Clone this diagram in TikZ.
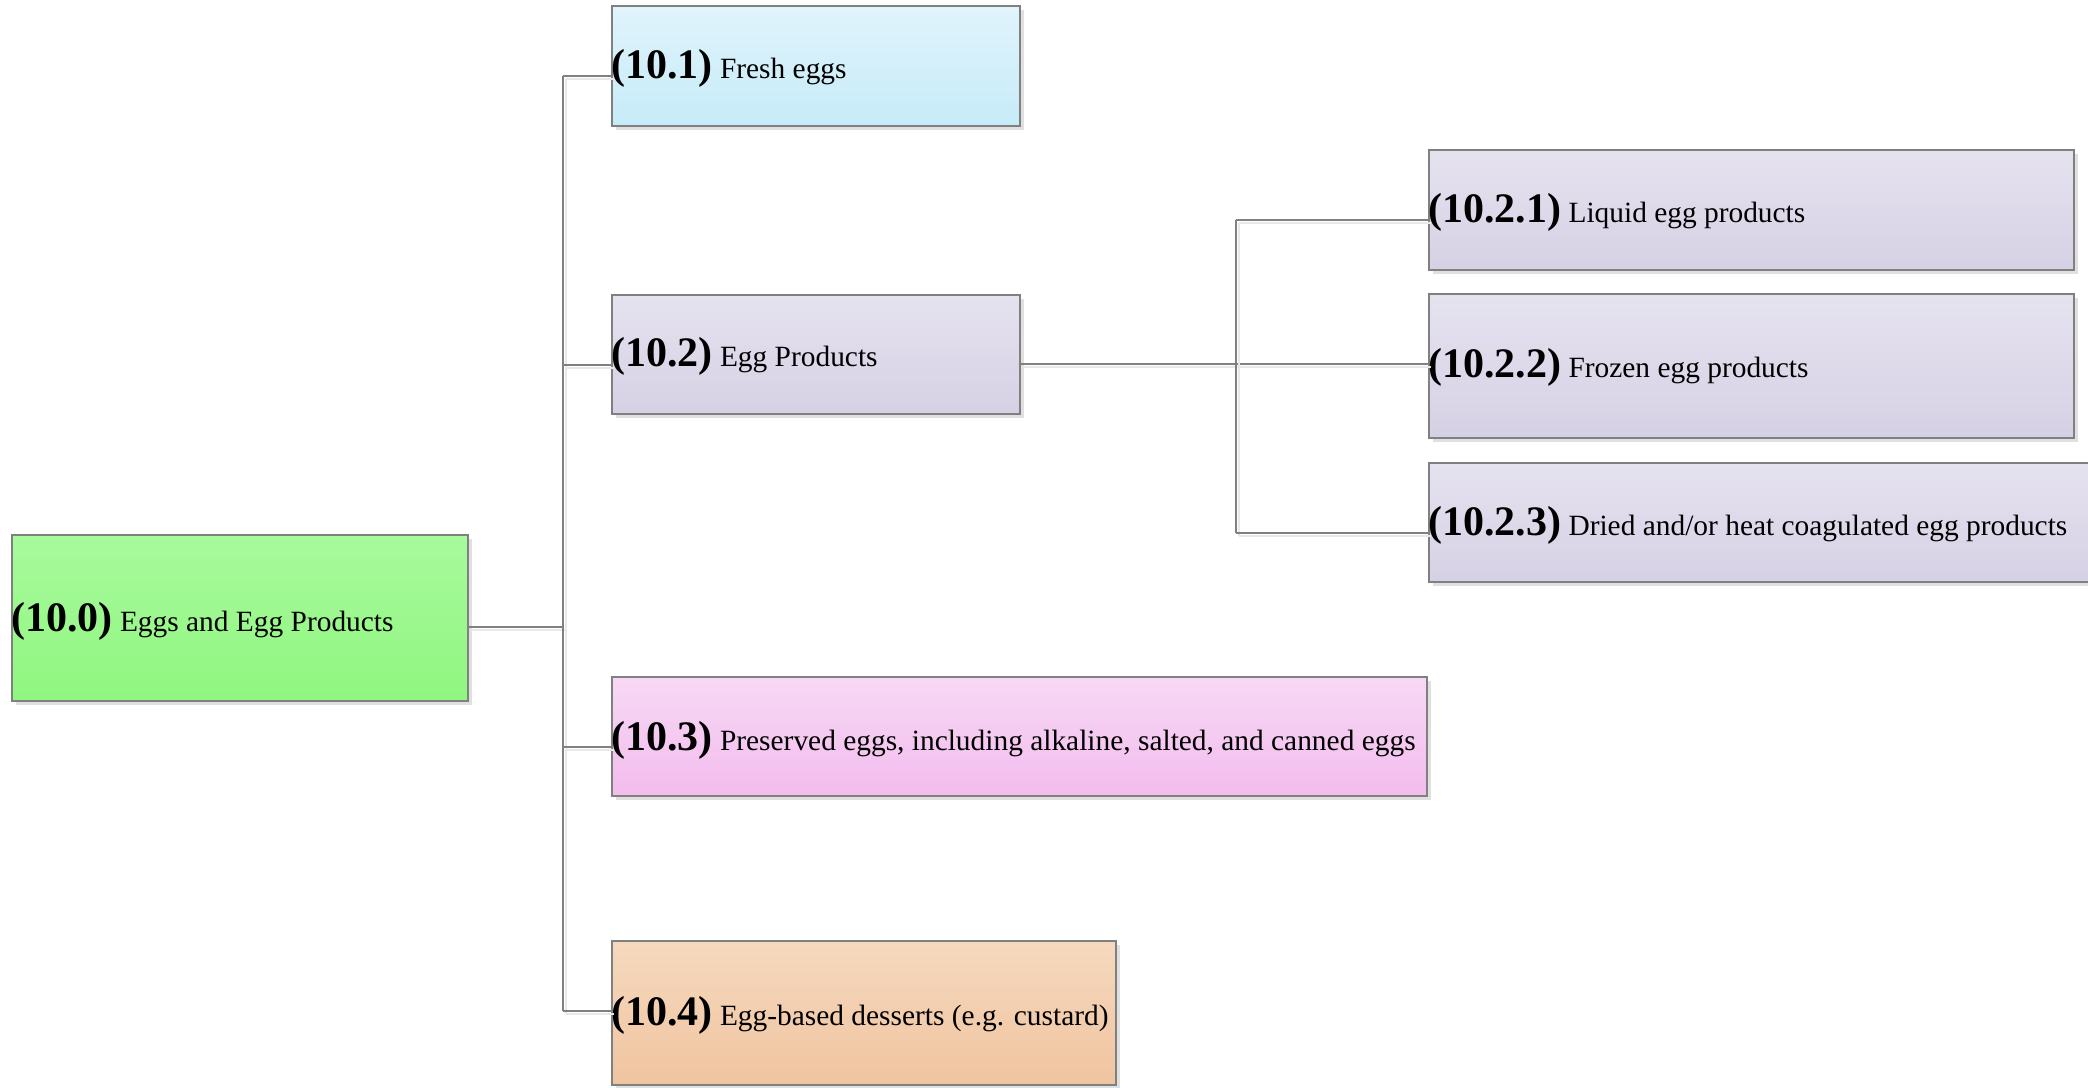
\documentclass[tikz,border=0pt]{standalone}
\usepackage{fontspec}
\setmainfont{Liberation Serif}
\usetikzlibrary{shadows,calc}

\definecolor{edgegray}{RGB}{128,128,128}
\definecolor{greenT}{RGB}{168,250,156}
\definecolor{greenB}{RGB}{144,246,128}
\definecolor{blueT}{RGB}{224,244,251}
\definecolor{blueB}{RGB}{198,235,248}
\definecolor{lilacT}{RGB}{230,227,240}
\definecolor{lilacB}{RGB}{214,208,228}
\definecolor{pinkT}{RGB}{247,216,244}
\definecolor{pinkB}{RGB}{243,188,238}
\definecolor{peachT}{RGB}{245,217,190}
\definecolor{peachB}{RGB}{240,196,160}

\tikzset{
  box/.style={draw=edgegray, line width=1.5pt, rectangle, anchor=north west,
    inner sep=0pt, drop shadow={shadow xshift=4pt, shadow yshift=-4pt,
    fill=black!12, opacity=1}},
  green box/.style={box, top color=greenT, bottom color=greenB},
  blue box/.style={box, top color=blueT, bottom color=blueB},
  lilac box/.style={box, top color=lilacT, bottom color=lilacB},
  pink box/.style={box, top color=pinkT, bottom color=pinkB},
  peach box/.style={box, top color=peachT, bottom color=peachB},
  label text/.style={anchor=base west, inner sep=0pt, font=\fontsize{29.4}{29.4}\selectfont},
  conn/.style={draw=edgegray, line width=1.5pt,
    preaction={draw=black!9, line width=2pt, transform canvas={xshift=2.5pt, yshift=-2.5pt}}},
}
\newcommand{\code}[1]{{\fontsize{42}{42}\selectfont\bfseries(#1)}}

\begin{document}
\begin{tikzpicture}[x=1pt, y=-1pt]
  \clip (0,0) rectangle (2088,1087);
  \useasboundingbox (0,0) rectangle (2088,1087);

  % boxes
  \node[green box, minimum width=456, minimum height=166] (b0) at (11,534) {};
  \node[blue box,  minimum width=408, minimum height=120] (b1) at (611,5) {};
  \node[lilac box, minimum width=408, minimum height=119] (b2) at (611,294) {};
  \node[pink box,  minimum width=815, minimum height=119] (b3) at (611,676) {};
  \node[peach box, minimum width=504, minimum height=144] (b4) at (611,940) {};
  \node[lilac box, minimum width=645, minimum height=120] (b21) at (1428,149) {};
  \node[lilac box, minimum width=645, minimum height=144] (b22) at (1428,293) {};
  \node[lilac box, minimum width=680, minimum height=119] (b23) at (1428,462) {};

  % labels
  \node[label text] (t0) at (11,631) {\code{10.0} Eggs and Egg Products};
  \node[label text] (t1) at (611,78) {\code{10.1} Fresh eggs};
  \node[label text] (t2) at (611,366) {\code{10.2} Egg Products};
  \node[label text] (t3) at (611,750) {\code{10.3} Preserved eggs, including alkaline, salted, and canned eggs};
  \node[label text] (t4) at (611,1025) {\code{10.4} Egg-based desserts (e.g. custard)};
  \node[label text] (t21) at (1428,222) {\code{10.2.1} Liquid egg products};
  \node[label text] (t22) at (1428,377) {\code{10.2.2} Frozen egg products};
  \node[label text] (t23) at (1428,535) {\code{10.2.3} Dried and/or heat coagulated egg products};

  % attachment points on the left edges of the boxes
  \coordinate (a0) at ($(b0.north east)+(0,93)$);
  \foreach \b in {b1,b2,b3,b4,b21,b22,b23}
    \coordinate (a\b) at ($(\b.north west)+(0,71)$);

  % junction columns
  \coordinate (j0) at (563,627);
  \coordinate (j2) at (1236,364);

  % first level
  \draw[conn] (a0) -- (j0 |- a0);
  \draw[conn] (j0 |- ab1) -- (j0 |- ab4);
  \foreach \b in {b1,b2,b3,b4}
    \draw[conn] (j0 |- a\b) -- (a\b);

  % second level
  \draw[conn] (b2.east |- ab22) -- (ab22);
  \draw[conn] (j2 |- ab21) -- (j2 |- ab23);
  \draw[conn] (j2 |- ab21) -- (ab21);
  \draw[conn] (j2 |- ab23) -- (ab23);
\end{tikzpicture}
\end{document}
